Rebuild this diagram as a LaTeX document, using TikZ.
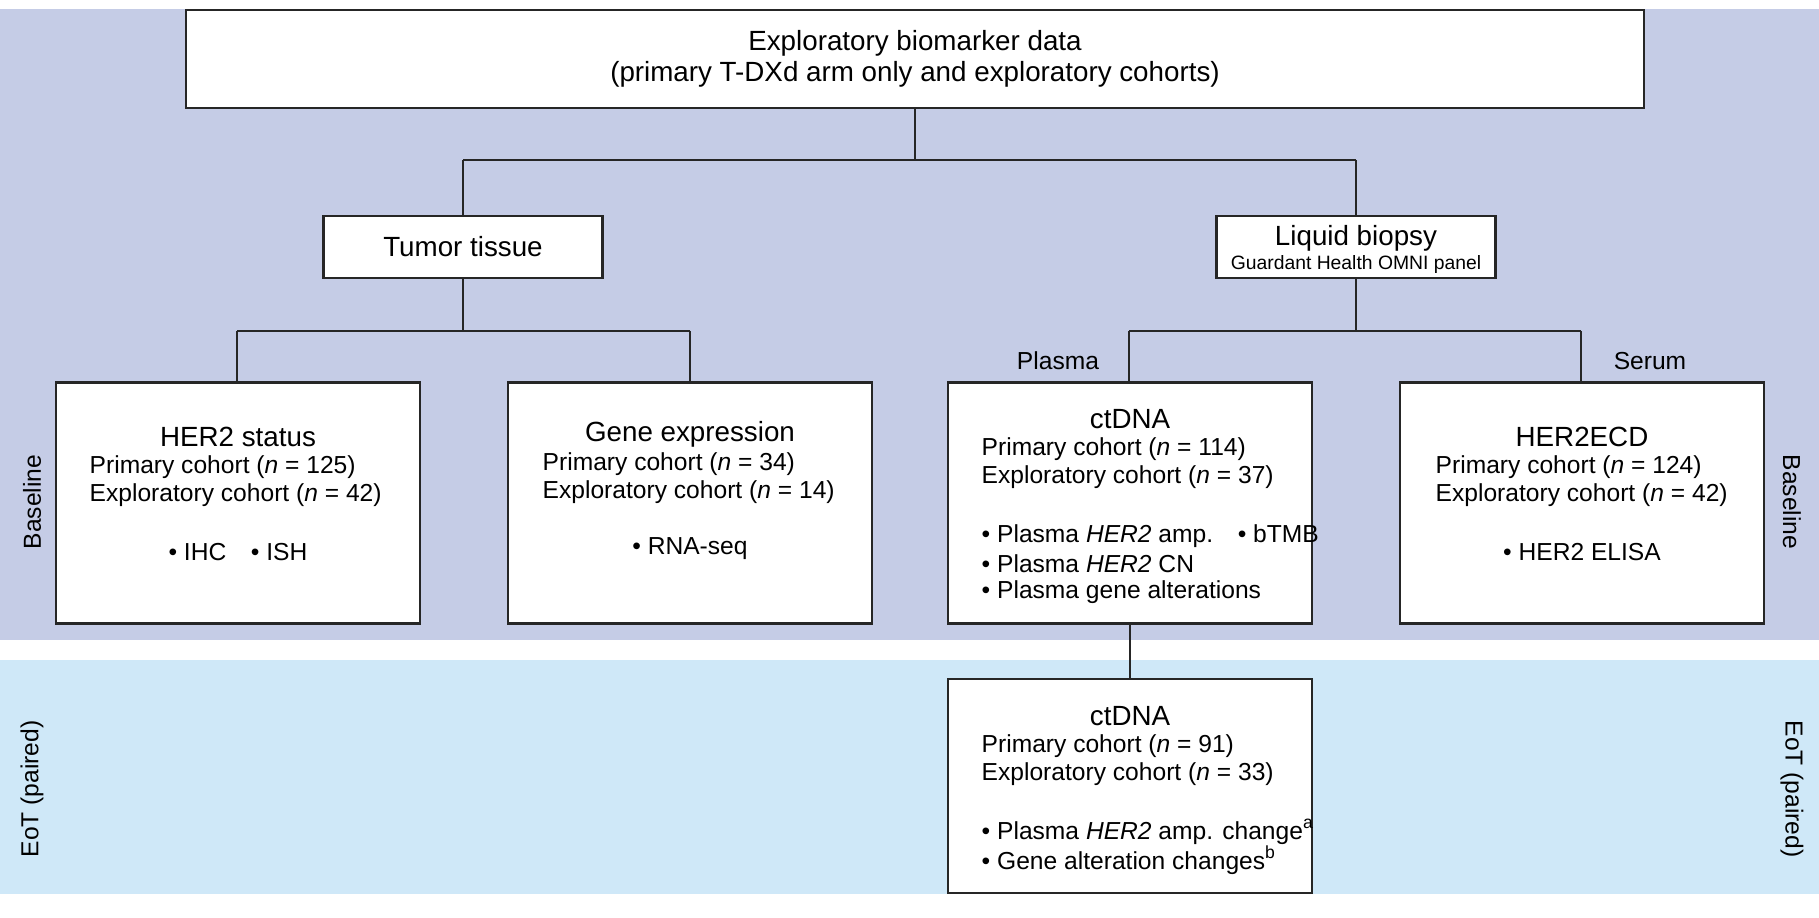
\documentclass[tikz,border=0pt]{standalone}
\usepackage{fontspec}
\setmainfont{Liberation Sans}
\definecolor{baseband}{HTML}{C5CCE6}
\definecolor{eotband}{HTML}{CFE8F8}
\tikzset{
  box/.style={draw=black!85, line width=0.7pt, fill=white, inner sep=0pt},
  title/.style={font=\fontsize{7.9}{9}\selectfont},
  txt/.style={font=\fontsize{7}{8.4}\selectfont, anchor=west, inner sep=0pt},
  ctr/.style={font=\fontsize{7}{8.4}\selectfont, inner sep=0pt},
  side/.style={font=\fontsize{7}{8.4}\selectfont, rotate=90, inner sep=0pt},
  link/.style={draw=black!85, line width=0.7pt},
}
\newcommand{\nn}{\textit{n}}
\begin{document}
\begin{tikzpicture}[x=0.1mm, y=-0.1mm]
  \useasboundingbox (0,0) rectangle (1819,918);
  % bands
  \fill[baseband] (0,9) rectangle (1819,640);
  \fill[eotband] (0,660) rectangle (1819,894);
  \node[side] (bl) at (32,502) {Baseline};
  \node[side, rotate=180] (br) at (1792,502) {Baseline};
  \node[side] (el) at (32,789) {EoT (paired)};
  \node[side, rotate=180] (er) at (1792,789) {EoT (paired)};
  % boxes
  \node[box, minimum width=145.8mm, minimum height=9.8mm] (top) at (915,59) {};
  \node[title, align=center] (toptxt) at (top) {Exploratory biomarker data\\(primary T-DXd arm only and exploratory cohorts)};
  \node[box, minimum width=27.9mm, minimum height=6.2mm] (tumor) at (463,247) {};
  \node[title] (tumortxt) at (tumor) {Tumor tissue};
  \node[box, minimum width=27.9mm, minimum height=6.2mm] (liquid) at (1356,247) {};
  \node[title] (liquidtxt) at (1356,238) {Liquid biopsy};
  \node[font=\fontsize{5.5}{7}\selectfont, inner sep=0pt] (omni) at (1356,265) {Guardant Health OMNI panel};
  \node[box, minimum width=36.4mm, minimum height=24.1mm] (her2) at (238,503) {};
  \node[box, minimum width=36.4mm, minimum height=24.1mm] (gene) at (690,503) {};
  \node[box, minimum width=36.4mm, minimum height=24.1mm] (ctdna) at (1130,503) {};
  \node[box, minimum width=36.4mm, minimum height=24.1mm] (ecd) at (1582,503) {};
  \node[box, minimum width=36.4mm, minimum height=21.4mm] (eot) at (1130,786) {};
  % connectors
  \coordinate (j1) at (915,160);
  \coordinate (j2) at (463,331);
  \coordinate (j3) at (1356,331);
  \draw[link] (top.south) -- (j1) (463,160) -- (1356,160)
    (463,160) -- (tumor.north) (1356,160) -- (liquid.north);
  \draw[link] (tumor.south) -- (j2) (237,331) -- (690,331)
    (237,331) -- (her2.north -| 237,0) (690,331) -- (gene.north);
  \draw[link] (liquid.south) -- (j3) (1129,331) -- (1581,331)
    (1129,331) -- (ctdna.north -| 1129,0) (1581,331) -- (ecd.north -| 1581,0);
  \draw[link] (ctdna.south) -- (eot.north);
  \node[ctr] (plasma) at (1058,361) {Plasma};
  \node[ctr] (serum) at (1650,361) {Serum};
  % HER2 status
  \node[title] (t1) at (238,437) {HER2 status};
  \node[txt] (a1) at (89,467) {Primary cohort (\nn{} = 125)};
  \node[txt] (a2) at (89,495) {Exploratory cohort (\nn{} = 42)};
  \node[ctr] (a3) at (238,552) {\textbullet{} IHC\quad\textbullet{} ISH};
  % gene expression
  \node[title] (t2) at (690,434) {Gene expression};
  \node[txt] (b1) at (542,464) {Primary cohort (\nn{} = 34)};
  \node[txt] (b2) at (542,492) {Exploratory cohort (\nn{} = 14)};
  \node[ctr] (b3) at (690,549) {\textbullet{} RNA-seq};
  % ctDNA baseline
  \node[title] (t3) at (1130,419) {ctDNA};
  \node[txt] (c1) at (981,449) {Primary cohort (\nn{} = 114)};
  \node[txt] (c2) at (981,477) {Exploratory cohort (\nn{} = 37)};
  \node[txt] (c3) at (981,536) {\textbullet{} Plasma \textit{HER2} amp.\quad\textbullet{} bTMB};
  \node[txt] (c4) at (981,564) {\textbullet{} Plasma \textit{HER2} CN};
  \node[txt] (c5) at (981,592) {\textbullet{} Plasma gene alterations};
  % HER2ECD
  \node[title] (t4) at (1582,437) {HER2ECD};
  \node[txt] (d1) at (1435,467) {Primary cohort (\nn{} = 124)};
  \node[txt] (d2) at (1435,495) {Exploratory cohort (\nn{} = 42)};
  \node[ctr] (d3) at (1582,552) {\textbullet{} HER2 ELISA};
  % ctDNA EoT
  \node[title] (t5) at (1130,716) {ctDNA};
  \node[txt] (e1) at (981,746) {Primary cohort (\nn{} = 91)};
  \node[txt] (e2) at (981,774) {Exploratory cohort (\nn{} = 33)};
  \node[txt] (e3) at (981,832) {\textbullet{} Plasma \textit{HER2} amp. change\textsuperscript{a}};
  \node[txt] (e4) at (981,860) {\textbullet{} Gene alteration changes\textsuperscript{b}};
\end{tikzpicture}
\end{document}
